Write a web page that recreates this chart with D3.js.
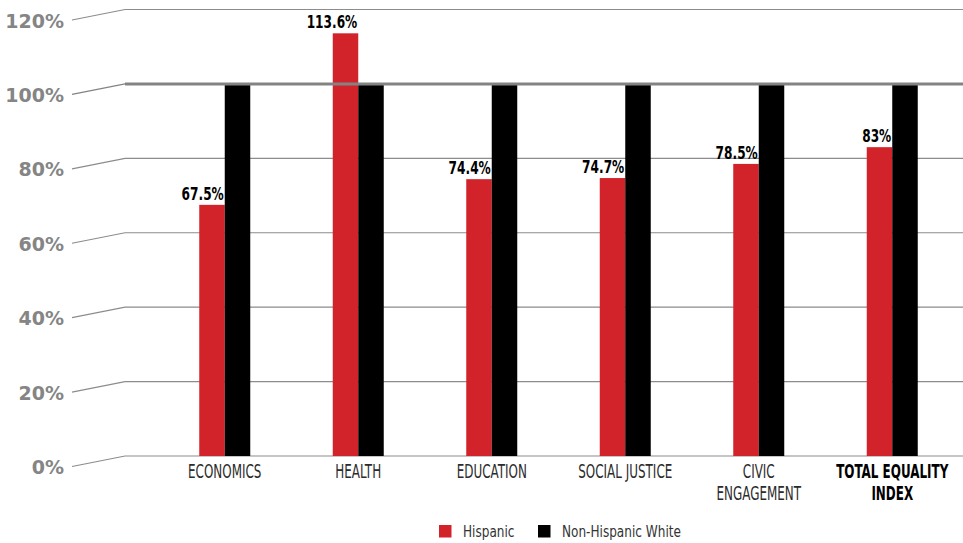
<!DOCTYPE html>
<html>
<head>
<meta charset="utf-8">
<script src="https://cdn.jsdelivr.net/npm/d3@7"></script>
<style>
  html, body { margin: 0; padding: 0; background: #fff; }
  svg { display: block; }
</style>
</head>
<body>
<svg id="chart" width="963" height="543"></svg>
<script>
// Equality index by domain, Hispanic vs. Non-Hispanic White (= 100%)
const categories = ["ECONOMICS", "HEALTH", "EDUCATION", "SOCIAL JUSTICE", "CIVIC ENGAGEMENT", "TOTAL EQUALITY INDEX"];
const categoryLines = [["ECONOMICS"], ["HEALTH"], ["EDUCATION"], ["SOCIAL JUSTICE"], ["CIVIC", "ENGAGEMENT"], ["TOTAL EQUALITY", "INDEX"]];
const boldCategory = [false, false, false, false, false, true];
const hispanic = [67.5, 113.6, 74.4, 74.7, 78.5, 83];
const nonHispanicWhite = [100, 100, 100, 100, 100, 100];
const seriesNames = ["Hispanic", "Non-Hispanic White"];
const seriesColors = ["#d2232a", "#000000"];
const yTicks = [0, 20, 40, 60, 80, 100, 120];

const svg = d3.select("#chart");
const narrow = "'Liberation Sans Narrow', 'DejaVu Sans Condensed', 'Arial Narrow', sans-serif";

const y = d3.scaleLinear().domain([0, 120]).range([456, 9.5]);
const x0 = d3.scaleBand().domain(categories).range([158, 959]);
const barW = 25.5;
const x1 = d3.scaleBand().domain(seriesNames)
  .range([x0.bandwidth() / 2 - barW, x0.bandwidth() / 2 + barW]);

// gridlines with a slanted lead-in from each tick label
const grid = svg.append("g");
yTicks.filter(t => t !== 100).forEach(t => {
  const yy = y(t);
  grid.append("path")
    .attr("d", `M72,${yy + 10.5}L125,${yy}H963`)
    .attr("fill", "none")
    .attr("stroke", "#8c8c8c")
    .attr("stroke-width", 1.2);
});

// tick labels
svg.append("g").selectAll("text").data(yTicks).join("text")
  .attr("x", 64)
  .attr("y", d => y(d) + 18)
  .attr("text-anchor", "end")
  .attr("font-family", "'DejaVu Sans', sans-serif")
  .attr("font-weight", "bold")
  .attr("font-size", 19)
  .attr("fill", "#858585")
  .text(d => d + "%");

// bars
const rows = categories.map((c, i) => ({ cat: c, values: [hispanic[i], nonHispanicWhite[i]] }));
const groups = svg.append("g").selectAll("g").data(rows).join("g")
  .attr("transform", d => `translate(${x0(d.cat)},0)`);

groups.selectAll("rect").data(d => d.values.map((v, j) => ({ name: seriesNames[j], v, j }))).join("rect")
  .attr("x", d => x1(d.name))
  .attr("width", x1.bandwidth())
  .attr("y", d => y(d.v))
  .attr("height", d => y(0) - y(d.v))
  .attr("fill", d => seriesColors[d.j]);

// value labels for the Hispanic bars
groups.append("text")
  .attr("transform", d => `translate(${x1(seriesNames[0]) + x1.bandwidth() - 1},${y(d.values[0]) - 5}) scale(0.73,1)`)
  .attr("text-anchor", "end")
  .attr("font-family", narrow)
  .attr("font-weight", "bold")
  .attr("font-size", 18.5)
  .attr("fill", "#000")
  .text(d => d.values[0] + "%");

// 100% parity line on top of the bars
svg.append("path")
  .attr("d", `M72,${y(100) + 10.5}L125,${y(100)}H963`)
  .attr("fill", "none")
  .attr("stroke", "#838383")
  .attr("stroke-width", 1.2);
svg.append("line")
  .attr("x1", 125).attr("x2", 963)
  .attr("y1", y(100)).attr("y2", y(100))
  .attr("stroke", "#838383")
  .attr("stroke-width", 3);

// category labels
categories.forEach((c, i) => {
  const cx = x0(c) + x0.bandwidth() / 2;
  const t = svg.append("text")
    .attr("transform", `translate(${cx},478) scale(0.70,1)`)
    .attr("text-anchor", "middle")
    .attr("font-family", narrow)
    .attr("font-size", 19)
    .attr("font-weight", boldCategory[i] ? "bold" : "normal")
    .attr("fill", boldCategory[i] ? "#000" : "#2b2b2b");
  categoryLines[i].forEach((line, k) => {
    t.append("tspan").attr("x", 0).attr("y", k * 22.5).text(line);
  });
});

// legend
const legend = svg.append("g");
const legendItems = [
  { name: seriesNames[0], color: seriesColors[0], sx: 439, tx: 463 },
  { name: seriesNames[1], color: seriesColors[1], sx: 538, tx: 562 }
];
legendItems.forEach(it => {
  legend.append("rect").attr("x", it.sx).attr("y", 525).attr("width", 12.5).attr("height", 12.5).attr("fill", it.color);
  legend.append("text")
    .attr("transform", `translate(${it.tx},537) scale(0.84,1)`)
    .attr("font-family", narrow).attr("font-size", 16).attr("fill", "#333")
    .text(it.name);
});
</script>
</body>
</html>
